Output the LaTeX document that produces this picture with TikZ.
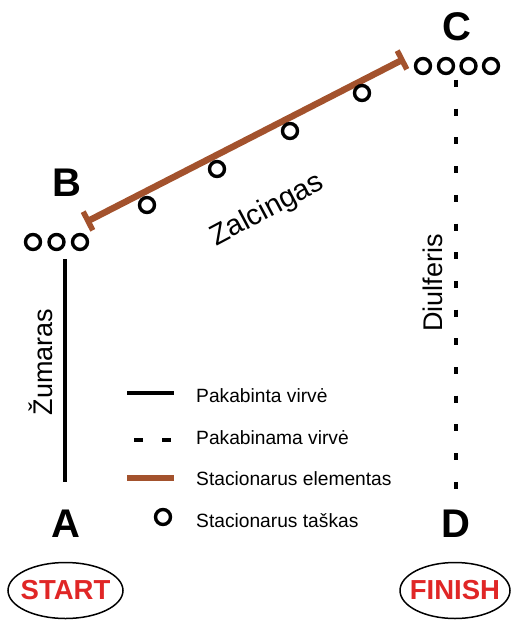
\documentclass[tikz,border=0pt]{standalone}
\usepackage{fontspec}
\setmainfont{Liberation Sans}
\usetikzlibrary{calc,shapes.geometric}
\definecolor{rust}{RGB}{163,82,45}
\definecolor{startred}{RGB}{224,38,38}
\begin{document}
\begin{tikzpicture}[x=1pt,y=-1pt,
  ring/.style={circle,draw=black,line width=3.4pt,minimum size=15pt,inner sep=0pt},
  letter/.style={inner sep=0pt,font=\fontsize{40}{40}\selectfont\bfseries},
  label/.style={inner sep=0pt,font=\fontsize{27}{27}\selectfont},
  legtext/.style={inner sep=0pt,anchor=base west,font=\fontsize{19.2}{19.2}\selectfont},
  rope/.style={line width=3.8pt,black},
  droperope/.style={line width=4pt,black,dash pattern=on 7pt off 21.7pt},
  stat/.style={line width=6.5pt,rust},
  endbar/.style={line width=5.5pt,rust},
  goal/.style={ellipse,draw=black,line width=1.5pt,minimum height=56pt,inner xsep=-10pt,inner ysep=0pt,
    text=startred,font=\fontsize{27.5}{27.5}\selectfont\bfseries}
]
\useasboundingbox (0,0) rectangle (513,620);

% letters
\node[letter] (A) at (66,524) {A};
\node[letter] (B) at (66.5,183) {B};
\node[letter] (C) at (457,27) {C};
\node[letter] (D) at (456,524) {D};

% start / finish
\node[goal,minimum width=115pt] (start) at (65.5,590.5) {START};
\node[goal,minimum width=110pt] (finish) at (455,590.5) {FINISH};

% rings at B and C
\node[ring] (b1) at (33,242) {};
\node[ring] (b2) at (56.5,242) {};
\node[ring] (b3) at (80,242) {};
\node[ring] (c1) at (423,66) {};
\node[ring] (c2) at (446,66) {};
\node[ring] (c3) at (468.5,66) {};
\node[ring] (c4) at (491,66) {};

% rope A-B (Zumaras)
\coordinate (zTop) at (65,259);
\coordinate (zBot) at (65,482);
\draw[rope] (zTop) -- (zBot);
\node[label,rotate=90,anchor=base] (zum) at (52,362) {Žumaras};

% rope C-D (Diulferis)
\coordinate (dTop) at (456,80);
\coordinate (dBot) at (456,490);
\draw[droperope] (dTop) -- (dBot);
\node[label,rotate=90,anchor=base] (diu) at (442,283) {Diulferis};

% stationary element B-C (Zalcingas)
\coordinate (sL) at (88,221);
\coordinate (sR) at (402,60);
\draw[stat] (sL) -- (sR);
\draw[endbar] ($(sL)!10.5pt!90:(sR)$) -- ($(sL)!10.5pt!-90:(sR)$);
\draw[endbar] ($(sR)!10.5pt!90:(sL)$) -- ($(sR)!10.5pt!-90:(sL)$);
\node[label,font=\fontsize{29}{29}\selectfont,rotate=28,anchor=base] (zal) at (271,217) {Zalcingas};

% stationary points along element
\node[ring] (p1) at (147,205) {};
\node[ring] (p2) at (217,169) {};
\node[ring] (p3) at (290,131) {};
\node[ring] (p4) at (362,93) {};

% legend
\coordinate (l1a) at (127,393); \coordinate (l1b) at (174,393);
\draw[rope] (l1a) -- (l1b);
\node[legtext] (t1) at (196,402) {Pakabinta virvė};
\coordinate (l2a) at (134,440); \coordinate (l2b) at (173,440);
\draw[line width=4pt,black,dash pattern=on 9pt off 19pt] (l2a) -- (l2b);
\node[legtext] (t2) at (196,444) {Pakabinama virvė};
\coordinate (l3a) at (127,478); \coordinate (l3b) at (174,478);
\draw[stat] (l3a) -- (l3b);
\node[legtext] (t3) at (196,485) {Stacionarus elementas};
\node[ring] (lr) at (163,517) {};
\node[legtext] (t4) at (196,527) {Stacionarus taškas};
\end{tikzpicture}
\end{document}
